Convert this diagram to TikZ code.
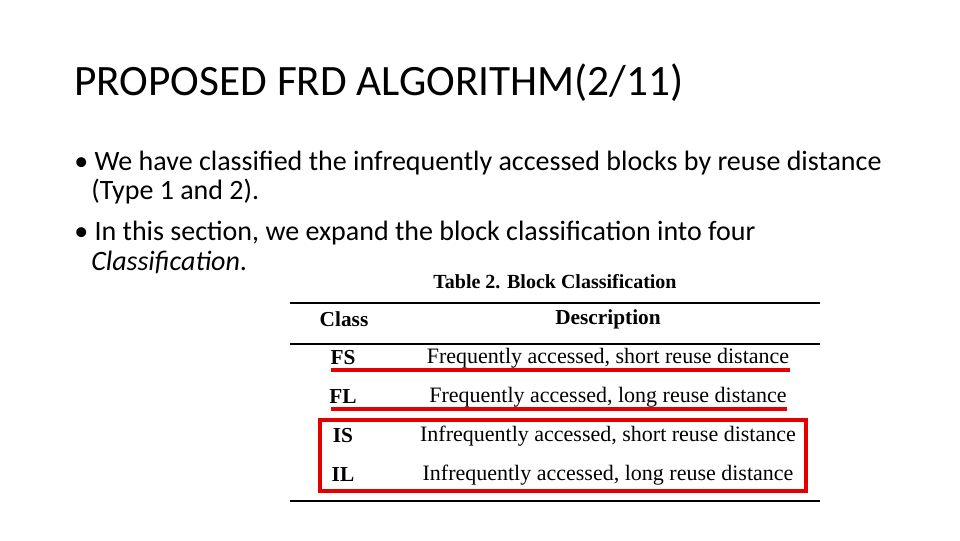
\documentclass[tikz,border=0pt]{standalone}
\usepackage{fontspec}
\setmainfont{Carlito}
\newfontfamily\tabfont{Liberation Serif}
\begin{document}
\begin{tikzpicture}[x=0.75pt,y=-0.75pt,
    slide/.style={anchor=base west,inner sep=0pt,font=\fontsize{21}{25}\selectfont},
    cls/.style={font=\tabfont\bfseries\fontsize{16}{18}\selectfont,inner sep=0pt},
    desc/.style={font=\tabfont\fontsize{16.5}{18}\selectfont,inner sep=0pt},
    rule/.style={line width=2.2pt},
    redmark/.style={draw=red!90!black,line width=2.4pt}]
    \useasboundingbox[fill=white] (0,0) rectangle (960,540);

    % title and bullets
    \node[slide,font=\fontsize{32.5}{38}\selectfont] (title) at (74,95) {PROPOSED FRD ALGORITHM(2/11)};
    \node[slide] (b1) at (74,170) {\textbullet\ We have classified the infrequently accessed blocks by reuse distance};
    \node[slide] (b1c) at (91,199) {(Type 1 and 2).};
    \node[slide] (b2) at (74,240) {\textbullet\ In this section, we expand the block classification into four};
    \node[slide] (b2c) at (91,270) {\textit{Classification}.};

    % table
    \node[cls,font=\tabfont\bfseries\fontsize{15}{17}\selectfont] (cap) at (555,282) {Table 2. Block Classification};
    \coordinate (t1) at (290,303); \coordinate (t2) at (820,303);
    \coordinate (h1) at (290,344); \coordinate (h2) at (820,344);
    \coordinate (e1) at (290,501); \coordinate (e2) at (820,501);
    \draw[rule] (t1) -- (t2);
    \draw[line width=1.5pt] (h1) -- (h2);
    \draw[rule] (e1) -- (e2);

    \node[cls] (hc) at (344,319) {Class};
    \node[cls] (hd) at (608,319) {Description};
    \node[cls] (fs) at (343,358) {FS};
    \node[desc] (dfs) at (608,358) {Frequently accessed, short reuse distance};
    \node[cls] (fl) at (343,397) {FL};
    \node[desc] (dfl) at (608,397) {Frequently accessed, long reuse distance};
    \node[cls] (is) at (343,436) {IS};
    \node[desc] (dis) at (608,436) {Infrequently accessed, short reuse distance};
    \node[cls] (il) at (343,475) {IL};
    \node[desc] (dil) at (608,475) {Infrequently accessed, long reuse distance};

    % red marks
    \coordinate (u1) at (331,370); \coordinate (u2) at (790,370);
    \coordinate (v1) at (331,409); \coordinate (v2) at (787,409);
    \draw[redmark] (u1) -- (u2);
    \draw[redmark] (v1) -- (v2);
    \draw[redmark] (320,420) rectangle (806,491);
\end{tikzpicture}
\end{document}
